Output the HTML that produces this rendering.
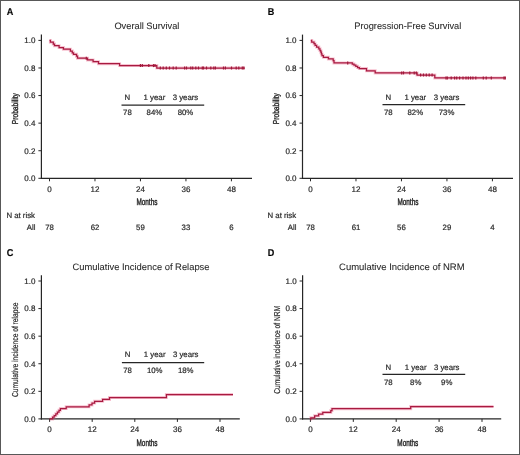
<!DOCTYPE html>
<html><head><meta charset="utf-8"><style>
html,body{margin:0;padding:0;background:#fff;}
text{stroke:#2a2a2a;stroke-width:0.2px;}
svg{display:block;font-family:"Liberation Sans", sans-serif;text-rendering:geometricPrecision;will-change:transform;}
</style></head><body>
<svg width="520" height="455" viewBox="0 0 520 455">
<rect x="0" y="0" width="520" height="455" fill="#fff"/>
<line x1="41.40" y1="34.60" x2="41.40" y2="178.80" stroke="#262626" stroke-width="1.2"/>
<line x1="40.80" y1="178.30" x2="252.00" y2="178.30" stroke="#262626" stroke-width="1.2"/>
<line x1="38.40" y1="178.30" x2="41.40" y2="178.30" stroke="#262626" stroke-width="1"/>
<text x="35.40" y="181.20" font-size="8" text-anchor="end" font-weight="normal" fill="#2a2a2a">0.0</text>
<line x1="38.40" y1="150.72" x2="41.40" y2="150.72" stroke="#262626" stroke-width="1"/>
<text x="35.40" y="153.62" font-size="8" text-anchor="end" font-weight="normal" fill="#2a2a2a">0.2</text>
<line x1="38.40" y1="123.14" x2="41.40" y2="123.14" stroke="#262626" stroke-width="1"/>
<text x="35.40" y="126.04" font-size="8" text-anchor="end" font-weight="normal" fill="#2a2a2a">0.4</text>
<line x1="38.40" y1="95.56" x2="41.40" y2="95.56" stroke="#262626" stroke-width="1"/>
<text x="35.40" y="98.46" font-size="8" text-anchor="end" font-weight="normal" fill="#2a2a2a">0.6</text>
<line x1="38.40" y1="67.98" x2="41.40" y2="67.98" stroke="#262626" stroke-width="1"/>
<text x="35.40" y="70.88" font-size="8" text-anchor="end" font-weight="normal" fill="#2a2a2a">0.8</text>
<line x1="38.40" y1="40.40" x2="41.40" y2="40.40" stroke="#262626" stroke-width="1"/>
<text x="35.40" y="43.30" font-size="8" text-anchor="end" font-weight="normal" fill="#2a2a2a">1.0</text>
<line x1="49.50" y1="178.30" x2="49.50" y2="181.30" stroke="#262626" stroke-width="1"/>
<text x="49.50" y="191.80" font-size="8" text-anchor="middle" font-weight="normal" fill="#2a2a2a">0</text>
<line x1="94.98" y1="178.30" x2="94.98" y2="181.30" stroke="#262626" stroke-width="1"/>
<text x="94.98" y="191.80" font-size="8" text-anchor="middle" font-weight="normal" fill="#2a2a2a">12</text>
<line x1="140.46" y1="178.30" x2="140.46" y2="181.30" stroke="#262626" stroke-width="1"/>
<text x="140.46" y="191.80" font-size="8" text-anchor="middle" font-weight="normal" fill="#2a2a2a">24</text>
<line x1="185.94" y1="178.30" x2="185.94" y2="181.30" stroke="#262626" stroke-width="1"/>
<text x="185.94" y="191.80" font-size="8" text-anchor="middle" font-weight="normal" fill="#2a2a2a">36</text>
<line x1="231.42" y1="178.30" x2="231.42" y2="181.30" stroke="#262626" stroke-width="1"/>
<text x="231.42" y="191.80" font-size="8" text-anchor="middle" font-weight="normal" fill="#2a2a2a">48</text>
<text x="146.90" y="204.70" font-size="9.4" text-anchor="middle" font-weight="normal" fill="#2a2a2a" textLength="21.0" lengthAdjust="spacingAndGlyphs" style="stroke-width:0.45px">Months</text>
<text x="146.90" y="29.30" font-size="9.3" text-anchor="middle" font-weight="normal" fill="#2a2a2a" textLength="65.0" lengthAdjust="spacingAndGlyphs" style="stroke-width:0.08px">Overall Survival</text>
<text transform="translate(6.80,14.80) scale(0.92,1)" font-size="9.9" font-weight="bold" fill="#000" stroke="none">A</text>
<text transform="translate(17.80,108.70) rotate(-90)" font-size="8.6" text-anchor="middle" fill="#2a2a2a" textLength="31.0" lengthAdjust="spacingAndGlyphs" style="stroke-width:0.4px">Probability</text>
<text x="127.40" y="99.80" font-size="7.8" text-anchor="middle" font-weight="normal" fill="#2a2a2a">N</text>
<text x="154.40" y="99.80" font-size="7.8" text-anchor="middle" font-weight="normal" fill="#2a2a2a">1 year</text>
<text x="185.50" y="99.80" font-size="7.8" text-anchor="middle" font-weight="normal" fill="#2a2a2a">3 years</text>
<line x1="121.50" y1="105.20" x2="204.20" y2="105.20" stroke="#262626" stroke-width="1.3"/>
<text x="127.40" y="115.30" font-size="7.8" text-anchor="middle" font-weight="normal" fill="#2a2a2a">78</text>
<text x="154.40" y="115.30" font-size="7.8" text-anchor="middle" font-weight="normal" fill="#2a2a2a">84%</text>
<text x="185.50" y="115.30" font-size="7.8" text-anchor="middle" font-weight="normal" fill="#2a2a2a">80%</text>
<text x="6.40" y="217.60" font-size="7.8" text-anchor="start" font-weight="normal" fill="#2a2a2a">N at risk</text>
<text x="35.40" y="229.70" font-size="7.8" text-anchor="end" font-weight="normal" fill="#2a2a2a">All</text>
<text x="49.50" y="229.70" font-size="7.8" text-anchor="middle" font-weight="normal" fill="#2a2a2a">78</text>
<text x="94.98" y="229.70" font-size="7.8" text-anchor="middle" font-weight="normal" fill="#2a2a2a">62</text>
<text x="140.46" y="229.70" font-size="7.8" text-anchor="middle" font-weight="normal" fill="#2a2a2a">59</text>
<text x="185.94" y="229.70" font-size="7.8" text-anchor="middle" font-weight="normal" fill="#2a2a2a">33</text>
<text x="231.42" y="229.70" font-size="7.8" text-anchor="middle" font-weight="normal" fill="#2a2a2a">6</text>
<path d="M49.50,40.40 H50.40 V42.20 H53.30 V44.00 H54.50 V45.70 H59.10 V47.50 H63.40 V49.20 H70.40 V51.00 H72.30 V52.80 H73.50 V54.30 H76.50 V56.20 H77.50 V58.20 H87.50 V59.90 H93.10 V61.70 H98.50 V63.70 H119.60 V65.60 H156.80 V68.00 H244.80" fill="none" stroke="#e8507a" stroke-opacity="0.35" stroke-width="3.0" stroke-linejoin="miter"/>
<path d="M49.50,40.40 H50.40 V42.20 H53.30 V44.00 H54.50 V45.70 H59.10 V47.50 H63.40 V49.20 H70.40 V51.00 H72.30 V52.80 H73.50 V54.30 H76.50 V56.20 H77.50 V58.20 H87.50 V59.90 H93.10 V61.70 H98.50 V63.70 H119.60 V65.60 H156.80 V68.00 H244.80" fill="none" stroke="#a81a40" stroke-width="1.25" stroke-linejoin="miter"/>
<line x1="86.30" y1="56.70" x2="86.30" y2="59.70" stroke="#a0183a" stroke-width="1.2"/>
<line x1="140.40" y1="64.10" x2="140.40" y2="67.10" stroke="#a0183a" stroke-width="1.2"/>
<line x1="142.30" y1="64.10" x2="142.30" y2="67.10" stroke="#a0183a" stroke-width="1.2"/>
<line x1="148.80" y1="64.10" x2="148.80" y2="67.10" stroke="#a0183a" stroke-width="1.2"/>
<line x1="153.50" y1="64.10" x2="153.50" y2="67.10" stroke="#a0183a" stroke-width="1.2"/>
<line x1="155.00" y1="64.10" x2="155.00" y2="67.10" stroke="#a0183a" stroke-width="1.2"/>
<line x1="160.30" y1="66.50" x2="160.30" y2="69.50" stroke="#a0183a" stroke-width="1.2"/>
<line x1="163.20" y1="66.50" x2="163.20" y2="69.50" stroke="#a0183a" stroke-width="1.2"/>
<line x1="166.30" y1="66.50" x2="166.30" y2="69.50" stroke="#a0183a" stroke-width="1.2"/>
<line x1="169.50" y1="66.50" x2="169.50" y2="69.50" stroke="#a0183a" stroke-width="1.2"/>
<line x1="173.20" y1="66.50" x2="173.20" y2="69.50" stroke="#a0183a" stroke-width="1.2"/>
<line x1="176.20" y1="66.50" x2="176.20" y2="69.50" stroke="#a0183a" stroke-width="1.2"/>
<line x1="184.60" y1="66.50" x2="184.60" y2="69.50" stroke="#a0183a" stroke-width="1.2"/>
<line x1="186.50" y1="66.50" x2="186.50" y2="69.50" stroke="#a0183a" stroke-width="1.2"/>
<line x1="190.80" y1="66.50" x2="190.80" y2="69.50" stroke="#a0183a" stroke-width="1.2"/>
<line x1="192.70" y1="66.50" x2="192.70" y2="69.50" stroke="#a0183a" stroke-width="1.2"/>
<line x1="195.80" y1="66.50" x2="195.80" y2="69.50" stroke="#a0183a" stroke-width="1.2"/>
<line x1="198.50" y1="66.50" x2="198.50" y2="69.50" stroke="#a0183a" stroke-width="1.2"/>
<line x1="202.30" y1="66.50" x2="202.30" y2="69.50" stroke="#a0183a" stroke-width="1.2"/>
<line x1="203.50" y1="66.50" x2="203.50" y2="69.50" stroke="#a0183a" stroke-width="1.2"/>
<line x1="206.50" y1="66.50" x2="206.50" y2="69.50" stroke="#a0183a" stroke-width="1.2"/>
<line x1="210.80" y1="66.50" x2="210.80" y2="69.50" stroke="#a0183a" stroke-width="1.2"/>
<line x1="213.80" y1="66.50" x2="213.80" y2="69.50" stroke="#a0183a" stroke-width="1.2"/>
<line x1="215.40" y1="66.50" x2="215.40" y2="69.50" stroke="#a0183a" stroke-width="1.2"/>
<line x1="223.50" y1="66.50" x2="223.50" y2="69.50" stroke="#a0183a" stroke-width="1.2"/>
<line x1="225.40" y1="66.50" x2="225.40" y2="69.50" stroke="#a0183a" stroke-width="1.2"/>
<line x1="231.50" y1="66.50" x2="231.50" y2="69.50" stroke="#a0183a" stroke-width="1.2"/>
<line x1="236.20" y1="66.50" x2="236.20" y2="69.50" stroke="#a0183a" stroke-width="1.2"/>
<line x1="238.80" y1="66.50" x2="238.80" y2="69.50" stroke="#a0183a" stroke-width="1.2"/>
<line x1="242.30" y1="66.50" x2="242.30" y2="69.50" stroke="#a0183a" stroke-width="1.2"/>
<line x1="243.80" y1="66.50" x2="243.80" y2="69.50" stroke="#a0183a" stroke-width="1.2"/>
<line x1="302.50" y1="34.60" x2="302.50" y2="178.80" stroke="#262626" stroke-width="1.2"/>
<line x1="301.90" y1="178.30" x2="513.00" y2="178.30" stroke="#262626" stroke-width="1.2"/>
<line x1="299.50" y1="178.30" x2="302.50" y2="178.30" stroke="#262626" stroke-width="1"/>
<text x="296.50" y="181.20" font-size="8" text-anchor="end" font-weight="normal" fill="#2a2a2a">0.0</text>
<line x1="299.50" y1="150.72" x2="302.50" y2="150.72" stroke="#262626" stroke-width="1"/>
<text x="296.50" y="153.62" font-size="8" text-anchor="end" font-weight="normal" fill="#2a2a2a">0.2</text>
<line x1="299.50" y1="123.14" x2="302.50" y2="123.14" stroke="#262626" stroke-width="1"/>
<text x="296.50" y="126.04" font-size="8" text-anchor="end" font-weight="normal" fill="#2a2a2a">0.4</text>
<line x1="299.50" y1="95.56" x2="302.50" y2="95.56" stroke="#262626" stroke-width="1"/>
<text x="296.50" y="98.46" font-size="8" text-anchor="end" font-weight="normal" fill="#2a2a2a">0.6</text>
<line x1="299.50" y1="67.98" x2="302.50" y2="67.98" stroke="#262626" stroke-width="1"/>
<text x="296.50" y="70.88" font-size="8" text-anchor="end" font-weight="normal" fill="#2a2a2a">0.8</text>
<line x1="299.50" y1="40.40" x2="302.50" y2="40.40" stroke="#262626" stroke-width="1"/>
<text x="296.50" y="43.30" font-size="8" text-anchor="end" font-weight="normal" fill="#2a2a2a">1.0</text>
<line x1="310.50" y1="178.30" x2="310.50" y2="181.30" stroke="#262626" stroke-width="1"/>
<text x="310.50" y="191.80" font-size="8" text-anchor="middle" font-weight="normal" fill="#2a2a2a">0</text>
<line x1="355.98" y1="178.30" x2="355.98" y2="181.30" stroke="#262626" stroke-width="1"/>
<text x="355.98" y="191.80" font-size="8" text-anchor="middle" font-weight="normal" fill="#2a2a2a">12</text>
<line x1="401.46" y1="178.30" x2="401.46" y2="181.30" stroke="#262626" stroke-width="1"/>
<text x="401.46" y="191.80" font-size="8" text-anchor="middle" font-weight="normal" fill="#2a2a2a">24</text>
<line x1="446.94" y1="178.30" x2="446.94" y2="181.30" stroke="#262626" stroke-width="1"/>
<text x="446.94" y="191.80" font-size="8" text-anchor="middle" font-weight="normal" fill="#2a2a2a">36</text>
<line x1="492.42" y1="178.30" x2="492.42" y2="181.30" stroke="#262626" stroke-width="1"/>
<text x="492.42" y="191.80" font-size="8" text-anchor="middle" font-weight="normal" fill="#2a2a2a">48</text>
<text x="407.90" y="204.70" font-size="9.4" text-anchor="middle" font-weight="normal" fill="#2a2a2a" textLength="21.0" lengthAdjust="spacingAndGlyphs" style="stroke-width:0.45px">Months</text>
<text x="407.80" y="29.30" font-size="9.3" text-anchor="middle" font-weight="normal" fill="#2a2a2a" textLength="107.0" lengthAdjust="spacingAndGlyphs" style="stroke-width:0.08px">Progression-Free Survival</text>
<text transform="translate(267.80,14.80) scale(0.92,1)" font-size="9.9" font-weight="bold" fill="#000" stroke="none">B</text>
<text transform="translate(278.90,108.70) rotate(-90)" font-size="8.6" text-anchor="middle" fill="#2a2a2a" textLength="31.0" lengthAdjust="spacingAndGlyphs" style="stroke-width:0.4px">Probability</text>
<text x="388.30" y="99.80" font-size="7.8" text-anchor="middle" font-weight="normal" fill="#2a2a2a">N</text>
<text x="415.30" y="99.80" font-size="7.8" text-anchor="middle" font-weight="normal" fill="#2a2a2a">1 year</text>
<text x="446.60" y="99.80" font-size="7.8" text-anchor="middle" font-weight="normal" fill="#2a2a2a">3 years</text>
<line x1="382.50" y1="104.70" x2="465.20" y2="104.70" stroke="#262626" stroke-width="1.3"/>
<text x="388.30" y="115.20" font-size="7.8" text-anchor="middle" font-weight="normal" fill="#2a2a2a">78</text>
<text x="415.30" y="115.20" font-size="7.8" text-anchor="middle" font-weight="normal" fill="#2a2a2a">82%</text>
<text x="446.60" y="115.20" font-size="7.8" text-anchor="middle" font-weight="normal" fill="#2a2a2a">73%</text>
<text x="267.50" y="217.60" font-size="7.8" text-anchor="start" font-weight="normal" fill="#2a2a2a">N at risk</text>
<text x="296.40" y="229.70" font-size="7.8" text-anchor="end" font-weight="normal" fill="#2a2a2a">All</text>
<text x="310.50" y="229.70" font-size="7.8" text-anchor="middle" font-weight="normal" fill="#2a2a2a">78</text>
<text x="355.98" y="229.70" font-size="7.8" text-anchor="middle" font-weight="normal" fill="#2a2a2a">61</text>
<text x="401.46" y="229.70" font-size="7.8" text-anchor="middle" font-weight="normal" fill="#2a2a2a">56</text>
<text x="446.94" y="229.70" font-size="7.8" text-anchor="middle" font-weight="normal" fill="#2a2a2a">29</text>
<text x="492.42" y="229.70" font-size="7.8" text-anchor="middle" font-weight="normal" fill="#2a2a2a">4</text>
<path d="M310.80,40.40 H311.70 V42.00 H314.00 V43.70 H315.10 V45.40 H316.60 V47.10 H318.80 V48.80 H320.00 V50.50 H320.80 V52.20 H321.40 V53.90 H322.00 V55.60 H323.40 V57.30 H328.40 V58.90 H333.20 V60.70 H334.00 V62.90 H352.30 V64.00 H354.00 V65.20 H355.80 V66.30 H357.60 V67.50 H359.40 V68.60 H366.50 V70.80 H375.20 V72.90 H417.10 V75.00 H434.80 V77.90 H505.80" fill="none" stroke="#e8507a" stroke-opacity="0.35" stroke-width="3.0" stroke-linejoin="miter"/>
<path d="M310.80,40.40 H311.70 V42.00 H314.00 V43.70 H315.10 V45.40 H316.60 V47.10 H318.80 V48.80 H320.00 V50.50 H320.80 V52.20 H321.40 V53.90 H322.00 V55.60 H323.40 V57.30 H328.40 V58.90 H333.20 V60.70 H334.00 V62.90 H352.30 V64.00 H354.00 V65.20 H355.80 V66.30 H357.60 V67.50 H359.40 V68.60 H366.50 V70.80 H375.20 V72.90 H417.10 V75.00 H434.80 V77.90 H505.80" fill="none" stroke="#a81a40" stroke-width="1.25" stroke-linejoin="miter"/>
<line x1="347.70" y1="61.40" x2="347.70" y2="64.40" stroke="#a0183a" stroke-width="1.2"/>
<line x1="401.70" y1="71.40" x2="401.70" y2="74.40" stroke="#a0183a" stroke-width="1.2"/>
<line x1="403.50" y1="71.40" x2="403.50" y2="74.40" stroke="#a0183a" stroke-width="1.2"/>
<line x1="409.80" y1="71.40" x2="409.80" y2="74.40" stroke="#a0183a" stroke-width="1.2"/>
<line x1="414.20" y1="71.40" x2="414.20" y2="74.40" stroke="#a0183a" stroke-width="1.2"/>
<line x1="416.30" y1="71.40" x2="416.30" y2="74.40" stroke="#a0183a" stroke-width="1.2"/>
<line x1="420.60" y1="73.50" x2="420.60" y2="76.50" stroke="#a0183a" stroke-width="1.2"/>
<line x1="423.50" y1="73.50" x2="423.50" y2="76.50" stroke="#a0183a" stroke-width="1.2"/>
<line x1="426.30" y1="73.50" x2="426.30" y2="76.50" stroke="#a0183a" stroke-width="1.2"/>
<line x1="429.20" y1="73.50" x2="429.20" y2="76.50" stroke="#a0183a" stroke-width="1.2"/>
<line x1="432.10" y1="73.50" x2="432.10" y2="76.50" stroke="#a0183a" stroke-width="1.2"/>
<line x1="446.00" y1="76.40" x2="446.00" y2="79.40" stroke="#a0183a" stroke-width="1.2"/>
<line x1="447.30" y1="76.40" x2="447.30" y2="79.40" stroke="#a0183a" stroke-width="1.2"/>
<line x1="451.20" y1="76.40" x2="451.20" y2="79.40" stroke="#a0183a" stroke-width="1.2"/>
<line x1="454.60" y1="76.40" x2="454.60" y2="79.40" stroke="#a0183a" stroke-width="1.2"/>
<line x1="456.70" y1="76.40" x2="456.70" y2="79.40" stroke="#a0183a" stroke-width="1.2"/>
<line x1="459.60" y1="76.40" x2="459.60" y2="79.40" stroke="#a0183a" stroke-width="1.2"/>
<line x1="463.00" y1="76.40" x2="463.00" y2="79.40" stroke="#a0183a" stroke-width="1.2"/>
<line x1="466.00" y1="76.40" x2="466.00" y2="79.40" stroke="#a0183a" stroke-width="1.2"/>
<line x1="468.30" y1="76.40" x2="468.30" y2="79.40" stroke="#a0183a" stroke-width="1.2"/>
<line x1="470.60" y1="76.40" x2="470.60" y2="79.40" stroke="#a0183a" stroke-width="1.2"/>
<line x1="472.90" y1="76.40" x2="472.90" y2="79.40" stroke="#a0183a" stroke-width="1.2"/>
<line x1="475.80" y1="76.40" x2="475.80" y2="79.40" stroke="#a0183a" stroke-width="1.2"/>
<line x1="483.30" y1="76.40" x2="483.30" y2="79.40" stroke="#a0183a" stroke-width="1.2"/>
<line x1="486.20" y1="76.40" x2="486.20" y2="79.40" stroke="#a0183a" stroke-width="1.2"/>
<line x1="491.30" y1="76.40" x2="491.30" y2="79.40" stroke="#a0183a" stroke-width="1.2"/>
<line x1="504.00" y1="76.40" x2="504.00" y2="79.40" stroke="#a0183a" stroke-width="1.2"/>
<line x1="505.20" y1="76.40" x2="505.20" y2="79.40" stroke="#a0183a" stroke-width="1.2"/>
<line x1="41.40" y1="275.20" x2="41.40" y2="419.40" stroke="#262626" stroke-width="1.2"/>
<line x1="40.80" y1="418.90" x2="239.80" y2="418.90" stroke="#262626" stroke-width="1.2"/>
<line x1="38.40" y1="418.90" x2="41.40" y2="418.90" stroke="#262626" stroke-width="1"/>
<text x="35.40" y="421.80" font-size="8" text-anchor="end" font-weight="normal" fill="#2a2a2a">0.0</text>
<line x1="38.40" y1="391.32" x2="41.40" y2="391.32" stroke="#262626" stroke-width="1"/>
<text x="35.40" y="394.22" font-size="8" text-anchor="end" font-weight="normal" fill="#2a2a2a">0.2</text>
<line x1="38.40" y1="363.74" x2="41.40" y2="363.74" stroke="#262626" stroke-width="1"/>
<text x="35.40" y="366.64" font-size="8" text-anchor="end" font-weight="normal" fill="#2a2a2a">0.4</text>
<line x1="38.40" y1="336.16" x2="41.40" y2="336.16" stroke="#262626" stroke-width="1"/>
<text x="35.40" y="339.06" font-size="8" text-anchor="end" font-weight="normal" fill="#2a2a2a">0.6</text>
<line x1="38.40" y1="308.58" x2="41.40" y2="308.58" stroke="#262626" stroke-width="1"/>
<text x="35.40" y="311.48" font-size="8" text-anchor="end" font-weight="normal" fill="#2a2a2a">0.8</text>
<line x1="38.40" y1="281.00" x2="41.40" y2="281.00" stroke="#262626" stroke-width="1"/>
<text x="35.40" y="283.90" font-size="8" text-anchor="end" font-weight="normal" fill="#2a2a2a">1.0</text>
<line x1="49.60" y1="418.90" x2="49.60" y2="421.90" stroke="#262626" stroke-width="1"/>
<text x="49.60" y="432.40" font-size="8" text-anchor="middle" font-weight="normal" fill="#2a2a2a">0</text>
<line x1="92.20" y1="418.90" x2="92.20" y2="421.90" stroke="#262626" stroke-width="1"/>
<text x="92.20" y="432.40" font-size="8" text-anchor="middle" font-weight="normal" fill="#2a2a2a">12</text>
<line x1="134.80" y1="418.90" x2="134.80" y2="421.90" stroke="#262626" stroke-width="1"/>
<text x="134.80" y="432.40" font-size="8" text-anchor="middle" font-weight="normal" fill="#2a2a2a">24</text>
<line x1="177.40" y1="418.90" x2="177.40" y2="421.90" stroke="#262626" stroke-width="1"/>
<text x="177.40" y="432.40" font-size="8" text-anchor="middle" font-weight="normal" fill="#2a2a2a">36</text>
<line x1="220.00" y1="418.90" x2="220.00" y2="421.90" stroke="#262626" stroke-width="1"/>
<text x="220.00" y="432.40" font-size="8" text-anchor="middle" font-weight="normal" fill="#2a2a2a">48</text>
<text x="147.00" y="445.90" font-size="9.4" text-anchor="middle" font-weight="normal" fill="#2a2a2a" textLength="21.0" lengthAdjust="spacingAndGlyphs" style="stroke-width:0.45px">Months</text>
<text x="141.00" y="269.70" font-size="9.3" text-anchor="middle" font-weight="normal" fill="#2a2a2a" textLength="137.0" lengthAdjust="spacingAndGlyphs" style="stroke-width:0.08px">Cumulative Incidence of Relapse</text>
<text transform="translate(6.80,255.80) scale(0.92,1)" font-size="9.9" font-weight="bold" fill="#000" stroke="none">C</text>
<text transform="translate(18.40,349.80) rotate(-90)" font-size="8.6" text-anchor="middle" fill="#2a2a2a" textLength="94.6" lengthAdjust="spacingAndGlyphs" style="stroke-width:0.2px">Cumulative incidence of relapse</text>
<text x="127.60" y="357.10" font-size="7.8" text-anchor="middle" font-weight="normal" fill="#2a2a2a">N</text>
<text x="154.70" y="357.10" font-size="7.8" text-anchor="middle" font-weight="normal" fill="#2a2a2a">1 year</text>
<text x="185.75" y="357.10" font-size="7.8" text-anchor="middle" font-weight="normal" fill="#2a2a2a">3 years</text>
<line x1="121.90" y1="362.60" x2="204.20" y2="362.60" stroke="#262626" stroke-width="1.3"/>
<text x="127.60" y="372.90" font-size="7.8" text-anchor="middle" font-weight="normal" fill="#2a2a2a">78</text>
<text x="154.70" y="372.90" font-size="7.8" text-anchor="middle" font-weight="normal" fill="#2a2a2a">10%</text>
<text x="185.75" y="372.90" font-size="7.8" text-anchor="middle" font-weight="normal" fill="#2a2a2a">18%</text>
<path d="M49.60,418.90 H52.60 V417.20 H54.20 V415.50 H55.80 V413.80 H57.40 V412.00 H59.00 V410.30 H60.40 V408.50 H66.20 V406.80 H89.10 V404.90 H92.00 V403.00 H94.60 V401.30 H102.60 V399.40 H109.50 V397.60 H166.40 V394.60 H233.00" fill="none" stroke="#e8507a" stroke-opacity="0.35" stroke-width="3.0" stroke-linejoin="miter"/>
<path d="M49.60,418.90 H52.60 V417.20 H54.20 V415.50 H55.80 V413.80 H57.40 V412.00 H59.00 V410.30 H60.40 V408.50 H66.20 V406.80 H89.10 V404.90 H92.00 V403.00 H94.60 V401.30 H102.60 V399.40 H109.50 V397.60 H166.40 V394.60 H233.00" fill="none" stroke="#a81a40" stroke-width="1.25" stroke-linejoin="miter"/>
<line x1="302.60" y1="275.20" x2="302.60" y2="419.40" stroke="#262626" stroke-width="1.2"/>
<line x1="302.00" y1="418.90" x2="501.20" y2="418.90" stroke="#262626" stroke-width="1.2"/>
<line x1="299.60" y1="418.90" x2="302.60" y2="418.90" stroke="#262626" stroke-width="1"/>
<text x="296.60" y="421.80" font-size="8" text-anchor="end" font-weight="normal" fill="#2a2a2a">0.0</text>
<line x1="299.60" y1="391.32" x2="302.60" y2="391.32" stroke="#262626" stroke-width="1"/>
<text x="296.60" y="394.22" font-size="8" text-anchor="end" font-weight="normal" fill="#2a2a2a">0.2</text>
<line x1="299.60" y1="363.74" x2="302.60" y2="363.74" stroke="#262626" stroke-width="1"/>
<text x="296.60" y="366.64" font-size="8" text-anchor="end" font-weight="normal" fill="#2a2a2a">0.4</text>
<line x1="299.60" y1="336.16" x2="302.60" y2="336.16" stroke="#262626" stroke-width="1"/>
<text x="296.60" y="339.06" font-size="8" text-anchor="end" font-weight="normal" fill="#2a2a2a">0.6</text>
<line x1="299.60" y1="308.58" x2="302.60" y2="308.58" stroke="#262626" stroke-width="1"/>
<text x="296.60" y="311.48" font-size="8" text-anchor="end" font-weight="normal" fill="#2a2a2a">0.8</text>
<line x1="299.60" y1="281.00" x2="302.60" y2="281.00" stroke="#262626" stroke-width="1"/>
<text x="296.60" y="283.90" font-size="8" text-anchor="end" font-weight="normal" fill="#2a2a2a">1.0</text>
<line x1="310.40" y1="418.90" x2="310.40" y2="421.90" stroke="#262626" stroke-width="1"/>
<text x="310.40" y="432.40" font-size="8" text-anchor="middle" font-weight="normal" fill="#2a2a2a">0</text>
<line x1="353.30" y1="418.90" x2="353.30" y2="421.90" stroke="#262626" stroke-width="1"/>
<text x="353.30" y="432.40" font-size="8" text-anchor="middle" font-weight="normal" fill="#2a2a2a">12</text>
<line x1="396.20" y1="418.90" x2="396.20" y2="421.90" stroke="#262626" stroke-width="1"/>
<text x="396.20" y="432.40" font-size="8" text-anchor="middle" font-weight="normal" fill="#2a2a2a">24</text>
<line x1="439.10" y1="418.90" x2="439.10" y2="421.90" stroke="#262626" stroke-width="1"/>
<text x="439.10" y="432.40" font-size="8" text-anchor="middle" font-weight="normal" fill="#2a2a2a">36</text>
<line x1="482.00" y1="418.90" x2="482.00" y2="421.90" stroke="#262626" stroke-width="1"/>
<text x="482.00" y="432.40" font-size="8" text-anchor="middle" font-weight="normal" fill="#2a2a2a">48</text>
<text x="407.80" y="445.90" font-size="9.4" text-anchor="middle" font-weight="normal" fill="#2a2a2a" textLength="21.0" lengthAdjust="spacingAndGlyphs" style="stroke-width:0.45px">Months</text>
<text x="401.80" y="269.70" font-size="9.3" text-anchor="middle" font-weight="normal" fill="#2a2a2a" textLength="125.5" lengthAdjust="spacingAndGlyphs" style="stroke-width:0.08px">Cumulative Incidence of NRM</text>
<text transform="translate(267.80,255.80) scale(0.92,1)" font-size="9.9" font-weight="bold" fill="#000" stroke="none">D</text>
<text transform="translate(279.50,349.80) rotate(-90)" font-size="8.6" text-anchor="middle" fill="#2a2a2a" textLength="88.0" lengthAdjust="spacingAndGlyphs" style="stroke-width:0.2px">Cumulative incidence of NRM</text>
<text x="388.30" y="369.50" font-size="7.8" text-anchor="middle" font-weight="normal" fill="#2a2a2a">N</text>
<text x="415.70" y="369.50" font-size="7.8" text-anchor="middle" font-weight="normal" fill="#2a2a2a">1 year</text>
<text x="446.70" y="369.50" font-size="7.8" text-anchor="middle" font-weight="normal" fill="#2a2a2a">3 years</text>
<line x1="382.50" y1="374.30" x2="465.20" y2="374.30" stroke="#262626" stroke-width="1.3"/>
<text x="388.30" y="384.50" font-size="7.8" text-anchor="middle" font-weight="normal" fill="#2a2a2a">78</text>
<text x="415.70" y="384.50" font-size="7.8" text-anchor="middle" font-weight="normal" fill="#2a2a2a">8%</text>
<text x="446.70" y="384.50" font-size="7.8" text-anchor="middle" font-weight="normal" fill="#2a2a2a">9%</text>
<path d="M310.00,418.90 H310.80 V417.80 H314.60 V415.80 H318.60 V414.00 H322.80 V412.40 H330.80 V410.50 H332.00 V408.70 H410.70 V406.50 H493.50" fill="none" stroke="#e8507a" stroke-opacity="0.35" stroke-width="3.0" stroke-linejoin="miter"/>
<path d="M310.00,418.90 H310.80 V417.80 H314.60 V415.80 H318.60 V414.00 H322.80 V412.40 H330.80 V410.50 H332.00 V408.70 H410.70 V406.50 H493.50" fill="none" stroke="#a81a40" stroke-width="1.25" stroke-linejoin="miter"/>
<rect x="0.5" y="0.5" width="519" height="454" fill="none" stroke="#585858" stroke-width="1"/>
</svg>
</body></html>
